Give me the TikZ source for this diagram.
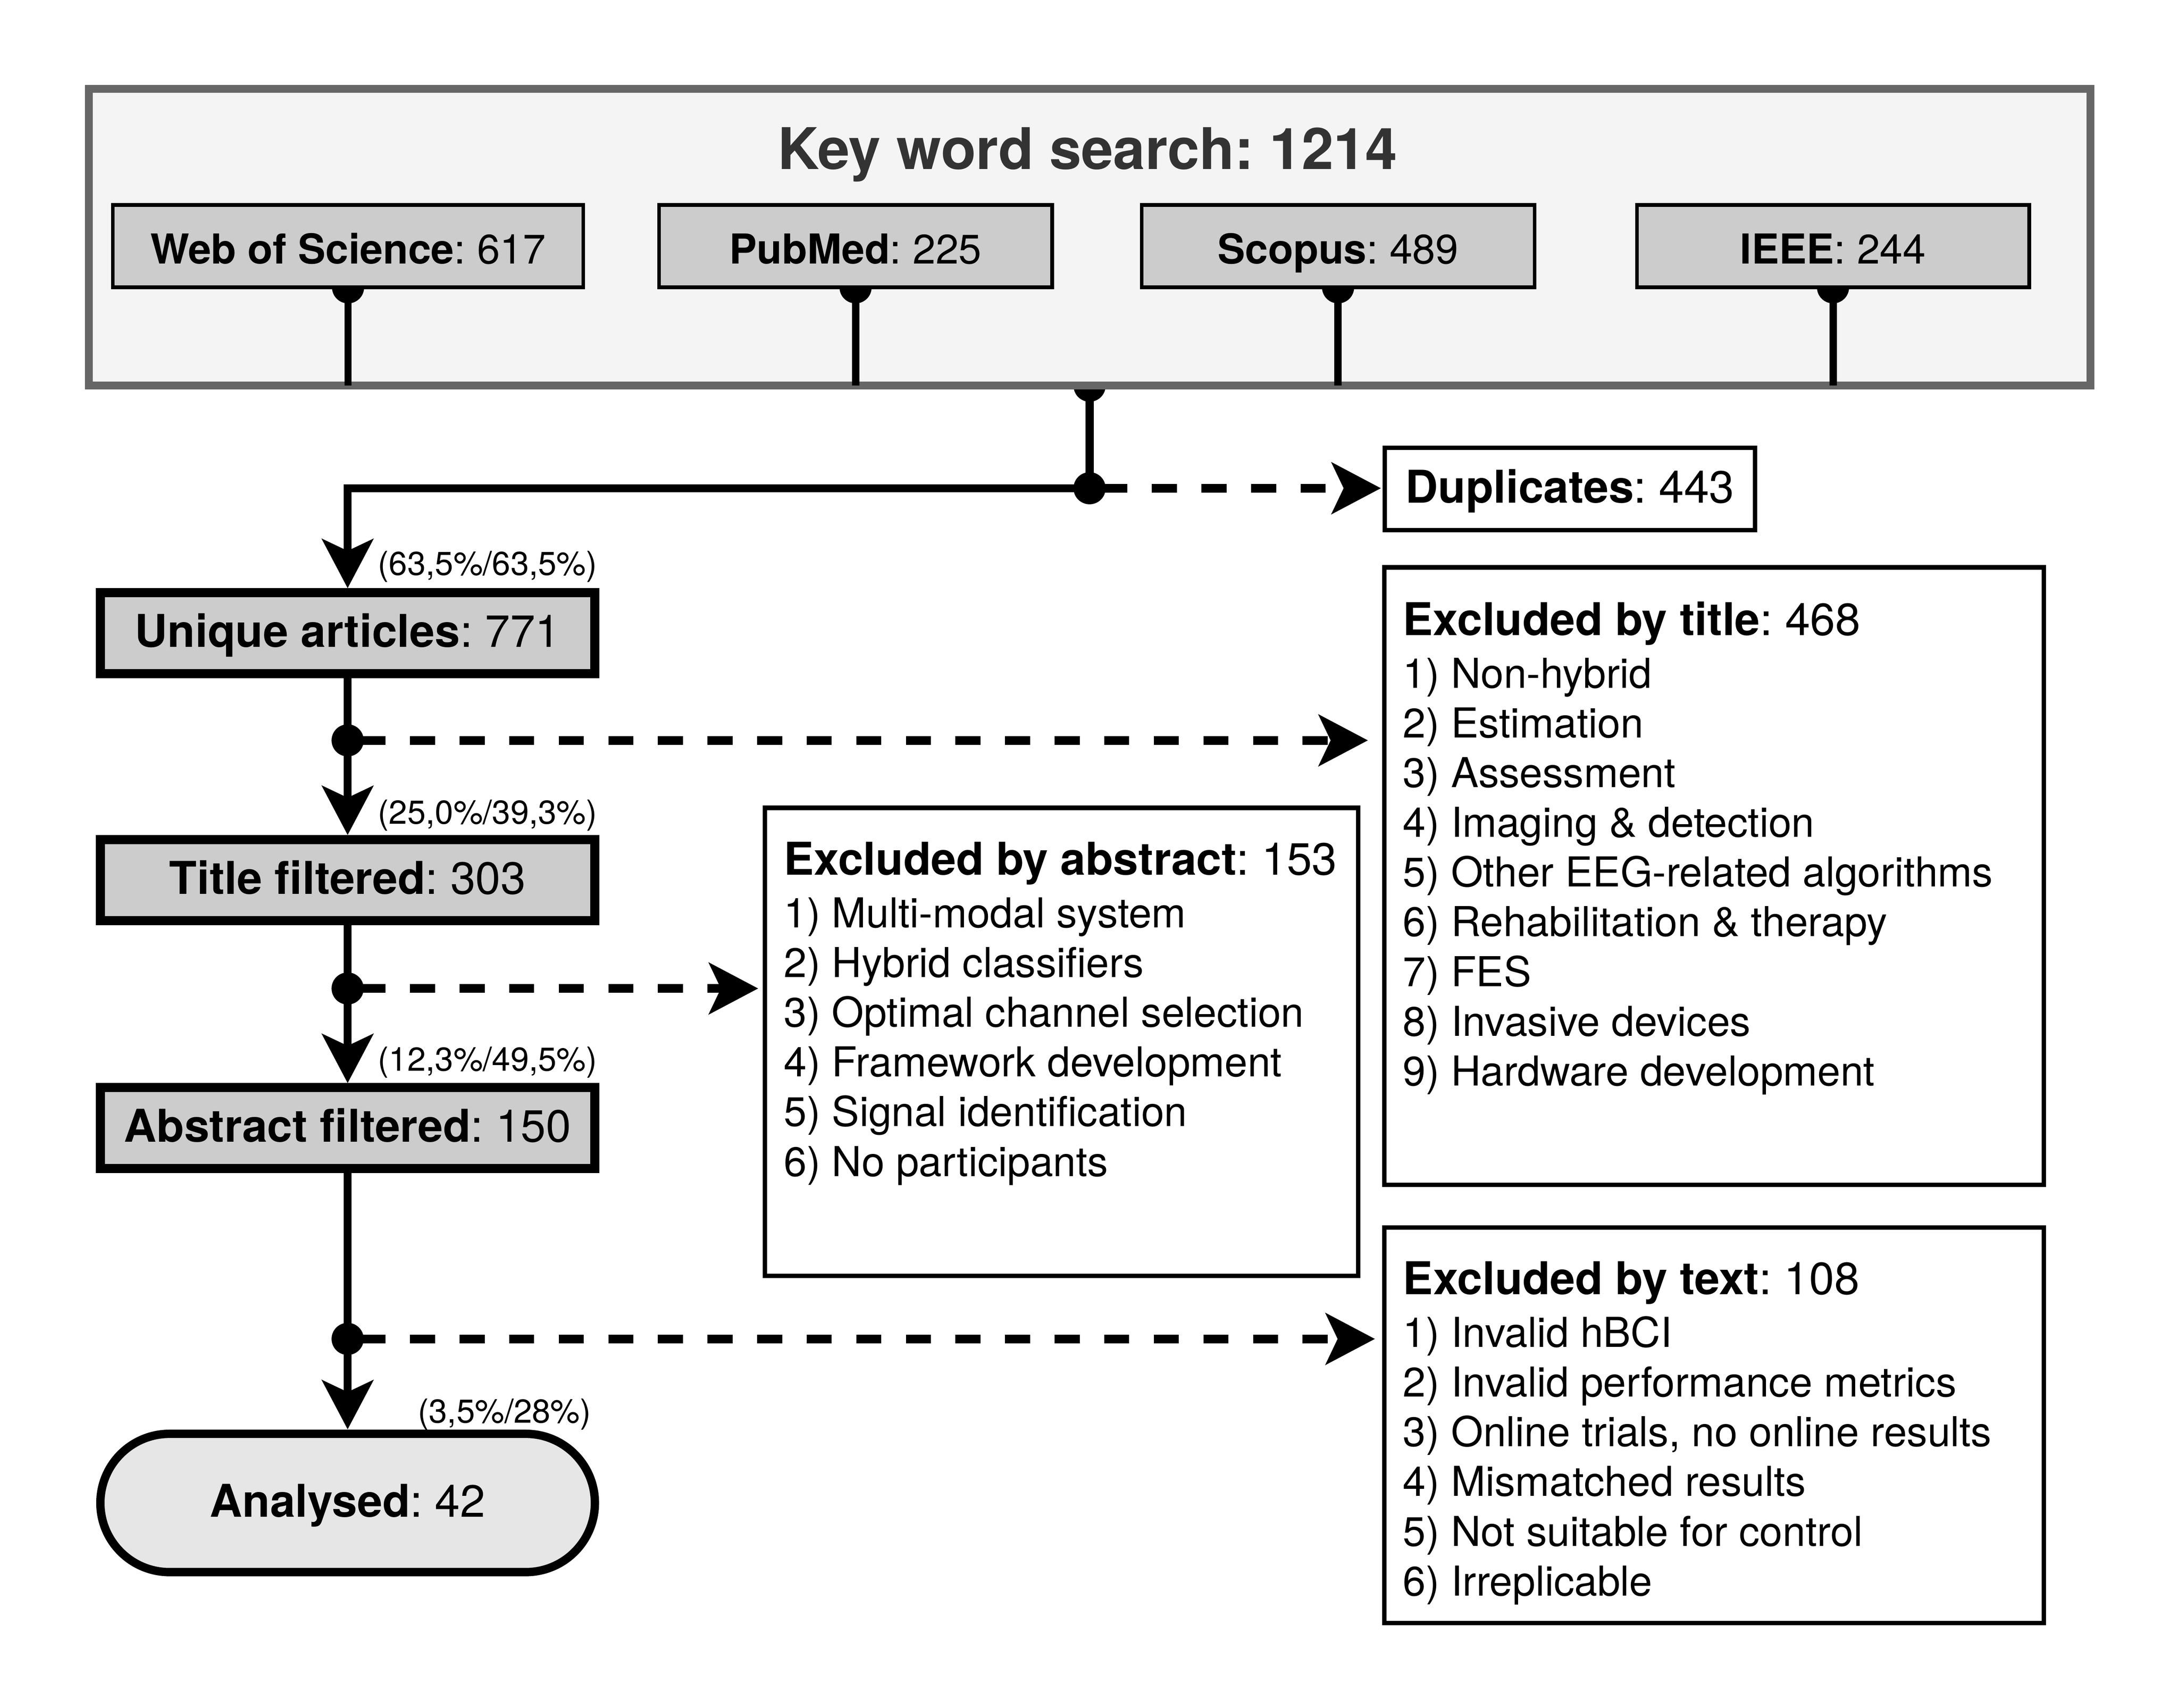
\documentclass[tikz,border=0pt]{standalone}
\usepackage{fontspec}
\setmainfont{TeX Gyre Heros}
\usetikzlibrary{arrows.meta}
\definecolor{boxgray}{HTML}{CCCCCC}
\definecolor{framegray}{HTML}{666666}
\definecolor{panelgray}{HTML}{F4F4F4}
\definecolor{titlegray}{HTML}{333333}
\definecolor{endgray}{HTML}{E6E6E6}
\newcommand{\exheadfont}{\fontsize{9.2}{10.13}\selectfont}
\frenchspacing
\pgfdeclarelayer{under}
\pgfdeclarelayer{panel}
\pgfdeclarelayer{wires}
\pgfsetlayers{under,panel,wires,main}
\tikzset{
  panelbox/.style={draw=framegray, line width=1.6pt, fill=panelgray, outer sep=0pt, inner sep=0pt},
  srcbox/.style={draw, line width=0.75pt, fill=boxgray, outer sep=0pt, inner sep=0pt, minimum height=0.59cm,
    text height=7.2pt, text depth=0pt, font=\fontsize{8.4}{10}\selectfont},
  stagebox/.style={draw, line width=1.85pt, fill=boxgray, outer sep=0pt, inner sep=0pt, minimum width=3.54cm,
    minimum height=0.58cm, text height=6.8pt, text depth=1.1pt, font=\fontsize{9.2}{11}\selectfont},
  exbox/.style={draw, line width=0.9pt, fill=white, outer sep=0pt, inner sep=0pt, anchor=north west},
  exlist/.style={anchor=north west, inner sep=0pt, align=left, font=\fontsize{8.4}{10.13}\selectfont},
  pct/.style={inner sep=0pt, font=\fontsize{6.75}{8}\selectfont},
  wire/.style={line width=1.65pt},
  srcline/.style={line width=1.5pt},
  flow/.style={wire, shorten >=0.9pt, -{Stealth[length=10pt,width=10.4pt,inset=2.4pt]}},
  drop/.style={line width=1.8pt, dash pattern=on 5.1pt off 5pt, dash phase=7.5pt,
    -{Stealth[length=10pt,width=10.4pt,inset=2.4pt]}},
}
\begin{document}
\begin{tikzpicture}[x=0.01cm,y=-0.01cm]
\useasboundingbox (0,0) rectangle (1560,1223.2);
\begin{pgfonlayer}{panel}
  \node[panelbox, minimum width=14.327cm, minimum height=2.125cm] (search) at (780.4,169.95) {};
\end{pgfonlayer}
\node[anchor=base, inner sep=0pt, text=titlegray, font=\fontsize{11.7}{14}\selectfont\bfseries] (searchtitle) at (779,121.1) {Key word search: 1214};
\node[srcbox, minimum width=3.368cm] (wos) at (249.3,176.3) {\textbf{Web of Science}: 617};
\node[srcbox, minimum width=2.814cm] (pubmed) at (612.8,176.3) {\textbf{PubMed}: 225};
\node[srcbox, minimum width=2.813cm] (scopus) at (958.4,176.3) {\textbf{Scopus}: 489};
\node[srcbox, minimum width=2.808cm] (ieee) at (1312.9,176.3) {\textbf{IEEE}: 244};
\begin{pgfonlayer}{wires}
  \fill (wos.south) circle (0.115cm);
  \fill (pubmed.south) circle (0.115cm);
  \fill (scopus.south) circle (0.115cm);
  \fill (ieee.south) circle (0.115cm);
  \draw[srcline] (wos.south) -- (wos.south |- search.south);
  \draw[srcline] (pubmed.south) -- (pubmed.south |- search.south);
  \draw[srcline] (scopus.south) -- (scopus.south |- search.south);
  \draw[srcline] (ieee.south) -- (ieee.south |- search.south);
\end{pgfonlayer}

\coordinate (split) at (780.4,349.7);
\begin{pgfonlayer}{under}
  \fill (search.south) circle (0.115cm);
  \draw[wire] (search.south) -- (split);
\end{pgfonlayer}
\node[stagebox, line width=0.9pt, fill=white, minimum width=2.65cm, minimum height=0.59cm] (dup) at (1124.5,350.2) {\textbf{Duplicates}: 443};

\node[stagebox] (unique) at (249,453.5) {\textbf{Unique articles}: 771};
\node[stagebox] (title) at (249,630.3) {\textbf{Title filtered}: 303};
\node[stagebox] (abstract) at (249,808) {\textbf{Abstract filtered}: 150};
\node[stagebox, fill=endgray, line width=1.7pt, minimum height=0.99cm, rounded corners=0.495cm] (analysed) at (249,1076.5) {\textbf{Analysed}: 42};

\node[pct, anchor=west] (pctunique) at (270,406) {(63,5\%/63,5\%)};
\node[pct, anchor=west] (pcttitle) at (270,584) {(25,0\%/39,3\%)};
\node[pct, anchor=west] (pctabstract) at (270,761) {(12,3\%/49,5\%)};
\node[pct, anchor=east] (pctanalysed) at (424,1013) {(3,5\%/28\%)};

\node[exbox, minimum width=4.723cm, minimum height=4.42cm] (exctitle) at (991.4,406.4) {};
\node[exlist] (exctitlelist) at ([xshift=0.127cm,yshift=-0.237cm]exctitle.north west)
  {{\exheadfont\textbf{Excluded by title}: 468}\\[0.6pt]
   1) Non-hybrid\\2) Estimation\\3) Assessment\\4) Imaging \& detection\\
   5) Other EEG-related algorithms\\6) Rehabilitation \& therapy\\7) FES\\
   8) Invasive devices\\9) Hardware development};
\node[exbox, minimum width=4.245cm, minimum height=3.351cm] (excabstract) at (548,578.6) {};
\node[exlist] (excabstractlist) at ([xshift=0.127cm,yshift=-0.237cm]excabstract.north west)
  {{\exheadfont\textbf{Excluded by abstract}: 153}\\[0.6pt]
   1) Multi-modal system\\2) Hybrid classifiers\\3) Optimal channel selection\\
   4) Framework development\\5) Signal identification\\6) No participants};
\node[exbox, minimum width=4.72cm, minimum height=2.833cm] (exctext) at (991.5,879.1) {};
\node[exlist] (exctextlist) at ([xshift=0.127cm,yshift=-0.237cm]exctext.north west)
  {{\exheadfont\textbf{Excluded by text}: 108}\\[0.6pt]
   1) Invalid hBCI\\2) Invalid performance metrics\\3) Online trials, no online results\\
   4) Mismatched results\\5) Not suitable for control\\6) Irreplicable};

\coordinate (cut1) at (249,530.3);
\coordinate (cut2) at (249,708);
\coordinate (cut3) at (249,959);
\draw[flow] (split) -| (unique.north);
\draw[flow] (unique) -- (title);
\draw[flow] (title) -- (abstract);
\draw[flow] (abstract) -- (analysed);
\draw[drop, shorten >=0.8pt] (split) -- (split -| dup.west);
\draw[drop, shorten >=3.3pt] (cut1) -- (cut1 -| exctitle.west);
\draw[drop, shorten >=1.4pt] (cut2) -- (cut2 -| excabstract.west);
\draw[drop, shorten >=1.9pt] (cut3) -- (cut3 -| exctext.west);
\fill (split) circle (0.115cm);
\fill (cut1) circle (0.115cm);
\fill (cut2) circle (0.115cm);
\fill (cut3) circle (0.115cm);
\end{tikzpicture}
\end{document}
